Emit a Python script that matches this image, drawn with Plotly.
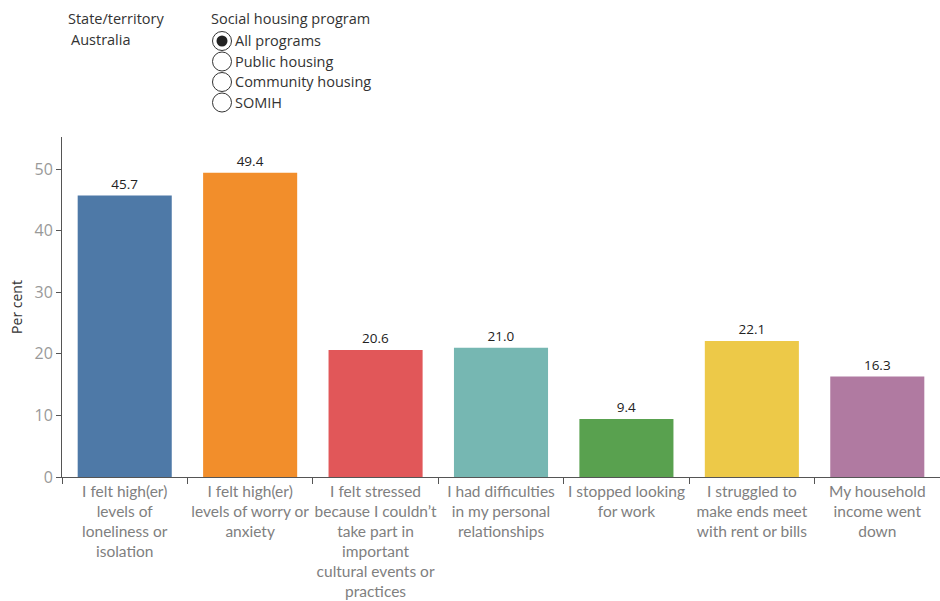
import plotly.graph_objects as go

# Effects reported by social housing tenants, Australia, all programs
categories = [
    "I felt high(er)<br>levels of<br>loneliness or<br>isolation",
    "I felt high(er)<br>levels of worry or<br>anxiety",
    "I felt stressed<br>because I couldn\u2019t<br>take part in<br>important<br>cultural events or<br>practices",
    "I had difficulties<br>in my personal<br>relationships",
    "I stopped looking<br>for work",
    "I struggled to<br>make ends meet<br>with rent or bills",
    "My household<br>income went<br>down",
]
values = [45.7, 49.4, 20.6, 21.0, 9.4, 22.1, 16.3]
colors = ["#4E79A7", "#F28E2B", "#E15759", "#76B7B2", "#59A14F", "#EDC948", "#B07AA1"]

programs = ["All programs", "Public housing", "Community housing", "SOMIH"]
selected_program = "All programs"

FONT = "Open Sans"
TICK_FONT = "Lato"
W, H = 940, 601
L, R, T, B = 62, 0, 137, 124
pw, ph = W - L - R, H - T - B


def px_x(px):
    return (px - L) / pw


def px_y(py):
    return (H - B - py) / ph


fig = go.Figure(
    go.Bar(
        x=categories,
        y=values,
        marker=dict(color=colors, line=dict(width=0)),
        text=[f"{v:.1f}" for v in values],
        textposition="outside",
        textfont=dict(family=FONT, size=13.5, color="#222222"),
        cliponaxis=False,
        hoverinfo="skip",
    )
)

fig.update_layout(
    width=W,
    height=H,
    margin=dict(l=L, r=R, t=T, b=B, pad=0, autoexpand=False),
    paper_bgcolor="white",
    plot_bgcolor="white",
    bargap=0.25,
    showlegend=False,
    font=dict(family=FONT),
)

fig.update_xaxes(
    type="category",
    tickson="boundaries",
    ticks="outside",
    ticklen=6,
    tickcolor="#555555",
    tickangle=0,
    automargin=False,
    showline=True,
    linecolor="#555555",
    linewidth=1,
    showgrid=False,
    tickfont=dict(family=TICK_FONT, size=15.5, color="#808080"),
)

fig.update_yaxes(
    range=[0, 55.2],
    tickvals=[0, 10, 20, 30, 40, 50],
    ticks="outside",
    ticklen=5,
    tickcolor="#555555",
    automargin=False,
    showline=True,
    linecolor="#555555",
    linewidth=1,
    showgrid=False,
    zeroline=False,
    tickfont=dict(family=FONT, size=16, color="#999999"),
    title=dict(text="Per cent", font=dict(family=FONT, size=14, color="#333333"), standoff=8),
)

# Filter panel: state/territory and program selector
annotations = [
    dict(text="State/territory", x=px_x(66), y=px_y(19), font=dict(size=14.5, color="#333333")),
    dict(text="Australia", x=px_x(69), y=px_y(40), font=dict(size=14.5, color="#333333")),
    dict(text="Social housing program", x=px_x(209), y=px_y(19), font=dict(size=14.5, color="#333333")),
]
shapes = []
r = 9.5
for i, prog in enumerate(programs):
    cy = 41 + i * 20.5
    cx = 222
    annotations.append(
        dict(text=prog, x=px_x(233), y=px_y(cy), font=dict(size=14.5, color="#333333"))
    )
    shapes.append(
        dict(type="circle", xref="paper", yref="paper",
             x0=px_x(cx - r), x1=px_x(cx + r), y0=px_y(cy + r), y1=px_y(cy - r),
             line=dict(color="#333333", width=1), fillcolor="white")
    )
    if prog == selected_program:
        rr = 5.5
        shapes.append(
            dict(type="circle", xref="paper", yref="paper",
                 x0=px_x(cx - rr), x1=px_x(cx + rr), y0=px_y(cy + rr), y1=px_y(cy - rr),
                 line=dict(color="#222222", width=0), fillcolor="#222222")
        )

for a in annotations:
    a.update(xref="paper", yref="paper", xanchor="left", yanchor="middle", showarrow=False)
    a["font"]["family"] = FONT

fig.update_layout(annotations=annotations, shapes=shapes)

fig.write_html("out.html")
